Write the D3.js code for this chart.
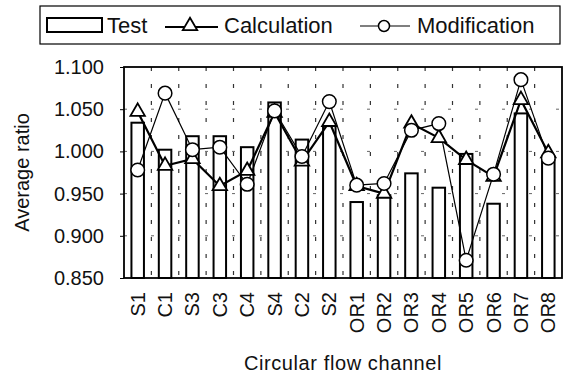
<!DOCTYPE html>
<html>
<head>
<meta charset="utf-8">
<script src="https://cdn.jsdelivr.net/npm/d3@7"></script>
<style>
  body { margin: 0; background: #fff; }
  text { font-family: "Liberation Sans", Arial, sans-serif; fill: #111; }
</style>
</head>
<body>
<svg id="chart" width="572" height="380"></svg>
<script>
// values
var categories = ["S1", "C1", "S3", "C3", "C4", "S4", "C2", "S2",
                  "OR1", "OR2", "OR3", "OR4", "OR5", "OR6", "OR7", "OR8"];
var testValues = [1.034, 1.002, 1.018, 1.018, 1.005, 1.058, 1.014, 1.030,
                  0.940, 0.948, 0.974, 0.957, 0.997, 0.938, 1.045, 0.990];
var calcValues = [1.047, 0.983, 0.991, 0.959, 0.977, 1.046, 0.988, 1.035,
                  0.959, 0.950, 1.033, 1.016, 0.990, 0.970, 1.061, 0.998];
var modValues  = [0.978, 1.069, 1.002, 1.005, 0.961, 1.048, 0.994, 1.059,
                  0.960, 0.962, 1.025, 1.033, 0.871, 0.973, 1.085, 0.992];
var yTicks = [0.85, 0.9, 0.95, 1.0, 1.05, 1.1];

// plot box (window.top is reserved, so keep these in an object)
var box = { left: 124, right: 562, top: 67, bottom: 278 };

var svg = d3.select("#chart");

var x = d3.scaleBand().domain(categories).range([box.left, box.right]).padding(0);
var y = d3.scaleLinear().domain([0.85, 1.1]).range([box.bottom, box.top]);

// dashed grid
svg.append("g").selectAll("line").data(yTicks.slice(1, -1)).join("line")
  .attr("x1", box.left).attr("x2", box.right)
  .attr("y1", d => y(d)).attr("y2", d => y(d))
  .attr("stroke", "#666").attr("stroke-width", 1).attr("stroke-dasharray", "3,24");
svg.append("g").selectAll("line").data(categories.slice(1)).join("line")
  .attr("x1", d => x(d)).attr("x2", d => x(d))
  .attr("y1", box.top).attr("y2", box.bottom)
  .attr("stroke", "#333").attr("stroke-width", 1.2).attr("stroke-dasharray", "4,13");

// bars
var barW = 12.5;
var cx = (d, i) => x(categories[i]) + x.bandwidth() / 2;
svg.append("g").selectAll("rect").data(testValues).join("rect")
  .attr("x", (d, i) => cx(d, i) - barW / 2)
  .attr("y", d => y(d))
  .attr("width", barW)
  .attr("height", d => box.bottom - y(d))
  .attr("fill", "#fff").attr("stroke", "#000").attr("stroke-width", 2);

// lines
var seriesLine = d3.line().x((d, i) => cx(d, i)).y(d => y(d));
svg.append("path").datum(calcValues).attr("d", seriesLine)
  .attr("fill", "none").attr("stroke", "#000").attr("stroke-width", 2.2);
svg.append("path").datum(modValues).attr("d", seriesLine)
  .attr("fill", "none").attr("stroke", "#000").attr("stroke-width", 1.2);

var tri = d3.symbol().type(d3.symbolTriangle).size(90);
svg.append("g").selectAll("path").data(calcValues).join("path")
  .attr("d", tri)
  .attr("transform", (d, i) => `translate(${cx(d, i)},${y(d)})`)
  .attr("fill", "#fff").attr("stroke", "#000").attr("stroke-width", 1.8);

svg.append("g").selectAll("circle").data(modValues).join("circle")
  .attr("cx", (d, i) => cx(d, i)).attr("cy", d => y(d)).attr("r", 6.8)
  .attr("fill", "#fff").attr("stroke", "#000").attr("stroke-width", 1.5);

// frame
svg.append("rect").attr("x", box.left).attr("y", box.top)
  .attr("width", box.right - box.left).attr("height", box.bottom - box.top)
  .attr("fill", "none").attr("stroke", "#000").attr("stroke-width", 1.8);

// axes
var yAxis = svg.append("g").attr("transform", `translate(${box.left},0)`)
  .call(d3.axisLeft(y).tickValues(yTicks).tickFormat(d3.format(".3f")).tickSize(4).tickPadding(16));
yAxis.select(".domain").remove();
yAxis.selectAll("text").attr("font-size", 20).style("font-family", "Liberation Sans, Arial, sans-serif");

var xAxis = svg.append("g").attr("transform", `translate(0,${box.bottom})`)
  .call(d3.axisBottom(x).tickSize(0).tickPadding(0));
xAxis.select(".domain").remove();
xAxis.selectAll("text")
  .attr("font-size", 20)
  .style("font-family", "Liberation Sans, Arial, sans-serif")
  .attr("text-anchor", "end")
  .attr("transform", "rotate(-90)")
  .attr("x", -14).attr("y", 0).attr("dy", "0.35em");

svg.append("text").attr("x", (box.left + box.right) / 2).attr("y", 370)
  .attr("text-anchor", "middle").attr("font-size", 20).attr("letter-spacing", 0.6)
  .text("Circular flow channel");
svg.append("text").attr("transform", `translate(29,${(box.top + box.bottom) / 2}) rotate(-90)`)
  .attr("text-anchor", "middle").attr("font-size", 20)
  .text("Average ratio");

// legend
var lg = svg.append("g");
lg.append("rect").attr("x", 40).attr("y", 6).attr("width", 520).attr("height", 38)
  .attr("fill", "#fff").attr("stroke", "#000").attr("stroke-width", 1.2);
lg.append("rect").attr("x", 47).attr("y", 18).attr("width", 55).attr("height", 14)
  .attr("fill", "#fff").attr("stroke", "#000").attr("stroke-width", 2);
lg.append("text").attr("x", 107).attr("y", 33).attr("font-size", 22).text("Test");
lg.append("line").attr("x1", 165).attr("x2", 218).attr("y1", 27).attr("y2", 27)
  .attr("stroke", "#000").attr("stroke-width", 2);
lg.append("path").attr("d", tri).attr("transform", "translate(190,26)")
  .attr("fill", "#fff").attr("stroke", "#000").attr("stroke-width", 1.8);
lg.append("text").attr("x", 224).attr("y", 33).attr("font-size", 22).text("Calculation");
lg.append("line").attr("x1", 360).attr("x2", 410).attr("y1", 26).attr("y2", 26)
  .attr("stroke", "#000").attr("stroke-width", 1.2);
lg.append("circle").attr("cx", 384).attr("cy", 26).attr("r", 5.5)
  .attr("fill", "#fff").attr("stroke", "#000").attr("stroke-width", 1.5);
lg.append("text").attr("x", 417).attr("y", 33).attr("font-size", 22).text("Modification");
</script>
</body>
</html>
